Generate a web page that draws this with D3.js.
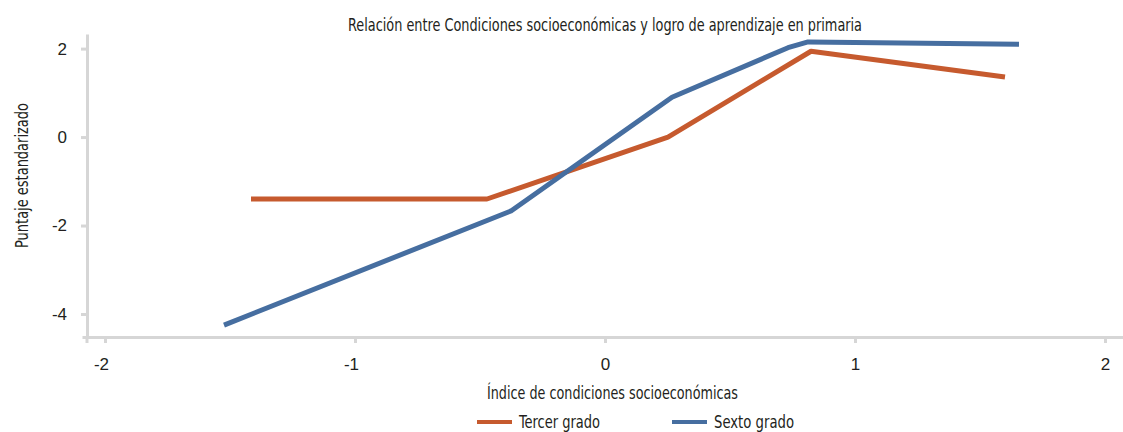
<!DOCTYPE html>
<html>
<head>
<meta charset="utf-8">
<script src="https://cdn.jsdelivr.net/npm/d3@7"></script>
<style>
    body { margin: 0; background: #fff; }
    svg { display: block; font-family: "DejaVu Sans Condensed", "DejaVu Sans", sans-serif; font-stretch: condensed; }
</style>
</head>
<body>
<svg width="1123" height="432"></svg>
<script>
// Data
const tercerX = [-1.416, -0.472, 0.252, 0.824, 1.60];
const tercerY = [-1.40, -1.40, 0.00, 1.94, 1.36];
const sextoX = [-1.524, -0.376, 0.268, 0.732, 0.812, 1.656];
const sextoY = [-4.25, -1.67, 0.90, 2.02, 2.15, 2.10];
const xTicks = [-2, -1, 0, 1, 2];
const yTicks = [2, 0, -2, -4];

const series = [
    { name: 'Tercer grado', color: '#c65a2e', xs: tercerX, ys: tercerY },
    { name: 'Sexto grado', color: '#466ea0', xs: sextoX, ys: sextoY }
];

const width = 1123;
const height = 432;
const svg = d3.select('svg');

const axisColor = '#d6d6d6';
const textColor = '#231f20';

const xScale = d3.scaleLinear()
    .domain([-2.092, 2.072])
    .range([82, 1123]);

const yScale = d3.scaleLinear()
    .domain([-4.52, 2.33])
    .range([337, 34]);

const fmt = d => d < 0 ? '-' + Math.abs(d) : d;

// Axes
let xAxis = g => g
    .attr('transform', `translate(0, ${yScale(-4.52)})`)
    .call(d3.axisBottom(xScale).tickValues(xTicks).tickSize(6).tickSizeOuter(0))
    .call(g => g.select('.domain').attr('stroke', axisColor).attr('stroke-width', 3))
    .call(g => g.selectAll('.tick line').attr('stroke', axisColor).attr('stroke-width', 3))
    .call(g => g.selectAll('.tick text')
        .attr('fill', textColor)
        .attr('font-size', 17)
        .attr('y', 33)
        .attr('dy', 0)
        .attr('dx', d => d < 0 ? -4 : 0)
        .text(fmt));

let yAxis = g => g
    .attr('transform', `translate(${xScale(-2.072)}, 0)`)
    .call(d3.axisLeft(yScale).tickValues(yTicks).tickSize(6).tickSizeOuter(0))
    .call(g => g.select('.domain').attr('stroke', axisColor).attr('stroke-width', 3))
    .call(g => g.selectAll('.tick line').attr('stroke', axisColor).attr('stroke-width', 3))
    .call(g => g.selectAll('.tick text')
        .attr('fill', textColor)
        .attr('font-size', 17)
        .attr('x', -20)
        .text(fmt));

svg.append('g').call(xAxis);
svg.append('g').call(yAxis);

// extend the y axis line down past the x axis
svg.append('line')
    .attr('x1', xScale(-2.072)).attr('x2', xScale(-2.072))
    .attr('y1', yScale(-4.52)).attr('y2', yScale(-4.52) + 6)
    .attr('stroke', axisColor).attr('stroke-width', 3);

// Lines
const line = d3.line()
    .x(d => xScale(d[0]))
    .y(d => yScale(d[1]));

svg.append('g')
    .selectAll('path')
    .data(series)
    .enter().append('path')
    .attr('fill', 'none')
    .attr('stroke', d => d.color)
    .attr('stroke-width', 5)
    .attr('stroke-linejoin', 'round')
    .attr('d', d => line(d.xs.map((x, i) => [x, d.ys[i]])));

// Title and axis titles (squeezed to mimic the condensed face of the original)
svg.append('text')
    .attr('x', 348).attr('y', 31)
    .attr('font-size', 17)
    .attr('fill', textColor)
    .attr('textLength', 514)
    .attr('lengthAdjust', 'spacingAndGlyphs')
    .text('Relación entre Condiciones socioeconómicas y logro de aprendizaje en primaria');

svg.append('text')
    .attr('x', 487).attr('y', 399)
    .attr('font-size', 18)
    .attr('fill', textColor)
    .attr('textLength', 251)
    .attr('lengthAdjust', 'spacingAndGlyphs')
    .text('Índice de condiciones socioeconómicas');

svg.append('text')
    .attr('transform', 'translate(28, 248) rotate(-90)')
    .attr('font-size', 18)
    .attr('fill', textColor)
    .attr('textLength', 145)
    .attr('lengthAdjust', 'spacingAndGlyphs')
    .text('Puntaje estandarizado');

// Legend
const legendX = [477, 672];
const legendW = [81, 80];
const legend = svg.append('g')
    .selectAll('g')
    .data(series)
    .enter().append('g')
    .attr('transform', (d, i) => `translate(${legendX[i]}, 422)`);

legend.append('line')
    .attr('x1', 0).attr('x2', 35)
    .attr('stroke', d => d.color)
    .attr('stroke-width', 4);

legend.append('text')
    .attr('x', 42).attr('y', 6)
    .attr('font-size', 18)
    .attr('fill', textColor)
    .attr('textLength', (d, i) => legendW[i])
    .attr('lengthAdjust', 'spacingAndGlyphs')
    .text(d => d.name);
</script>
</body>
</html>
